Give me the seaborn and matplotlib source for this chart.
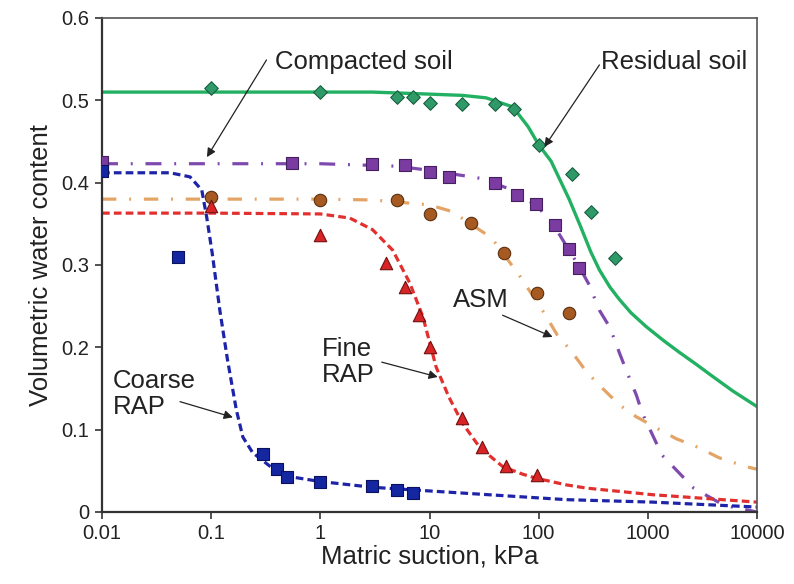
import matplotlib
matplotlib.use("Agg")
import matplotlib.pyplot as plt
import seaborn as sns

# ---------------- measured points ----------------
res_x = [0.1, 1, 5, 7, 10, 20, 40, 60, 100, 200, 300, 500]
res_y = [0.515, 0.51, 0.504, 0.504, 0.497, 0.495, 0.495, 0.49, 0.446, 0.41, 0.364, 0.309]

comp_x = [0.01, 0.55, 3, 6, 10, 15, 40, 63, 94, 142, 191, 234]
comp_y = [0.425, 0.424, 0.423, 0.421, 0.413, 0.407, 0.40, 0.385, 0.374, 0.348, 0.319, 0.296]

asm_x = [0.1, 1, 5, 10, 24, 48, 96, 191]
asm_y = [0.383, 0.379, 0.379, 0.362, 0.351, 0.314, 0.266, 0.242]

fine_x = [0.1, 1, 4, 6, 8, 10, 20, 30, 50, 96]
fine_y = [0.372, 0.337, 0.303, 0.273, 0.239, 0.201, 0.114, 0.079, 0.056, 0.045]

coarse_x = [0.01, 0.05, 0.3, 0.4, 0.5, 1, 3, 5, 7]
coarse_y = [0.414, 0.31, 0.071, 0.052, 0.043, 0.037, 0.032, 0.027, 0.023]

# ---------------- fitted curves ----------------
res_cx = [0.01, 0.1, 1, 3, 8, 20, 33, 58, 80, 100, 130, 190, 245, 300, 360, 450, 550, 700, 968, 1400, 1940, 2800, 3890, 6000, 10000]
res_cy = [0.51, 0.51, 0.51, 0.51, 0.508, 0.506, 0.503, 0.492, 0.468, 0.446, 0.426, 0.38, 0.345, 0.316, 0.294, 0.273, 0.258, 0.242, 0.225, 0.208, 0.194, 0.179, 0.165, 0.147, 0.128]

comp_cx = [0.01, 0.1, 1, 5, 10, 30, 60, 100, 150, 230, 290, 360, 450, 550, 630, 785, 890, 1350, 2630, 5000, 10000]
comp_cy = [0.423, 0.423, 0.423, 0.42, 0.415, 0.405, 0.39, 0.37, 0.34, 0.30, 0.276, 0.245, 0.224, 0.193, 0.173, 0.142, 0.12, 0.069, 0.029, 0.008, 0.0]

asm_cx = [0.01, 0.1, 1, 3, 10, 16, 37, 66, 112, 148, 200, 275, 372, 550, 776, 1200, 1820, 2950, 4470, 7940, 10000]
asm_cy = [0.38, 0.38, 0.38, 0.379, 0.373, 0.365, 0.333, 0.288, 0.242, 0.215, 0.195, 0.17, 0.152, 0.13, 0.116, 0.102, 0.089, 0.078, 0.066, 0.055, 0.052]

fine_cx = [0.01, 0.1, 1, 1.86, 3.0, 4.6, 6.6, 8.7, 11.5, 15, 20, 29, 47, 71, 95, 178, 275, 1100, 10000]
fine_cy = [0.363, 0.363, 0.362, 0.357, 0.343, 0.318, 0.278, 0.237, 0.176, 0.14, 0.108, 0.078, 0.055, 0.046, 0.041, 0.033, 0.029, 0.021, 0.012]

coarse_cx = [0.01, 0.042, 0.064, 0.082, 0.091, 0.102, 0.12, 0.141, 0.17, 0.195, 0.24, 0.35, 0.52, 1, 3, 20, 178, 1100, 10000]
coarse_cy = [0.412, 0.412, 0.407, 0.391, 0.358, 0.315, 0.245, 0.185, 0.124, 0.091, 0.072, 0.055, 0.043, 0.037, 0.030, 0.023, 0.015, 0.012, 0.006]

x_ticks = [0.01, 0.1, 1, 10, 100, 1000, 10000]
x_labels = ["0.01", "0.1", "1", "10", "100", "1000", "10000"]
y_ticks = [0, 0.1, 0.2, 0.3, 0.4, 0.5, 0.6]
y_labels = ["0", "0.1", "0.2", "0.3", "0.4", "0.5", "0.6"]

sns.set_theme(style="ticks")
plt.rcParams['font.family'] = ['Liberation Sans', 'DejaVu Sans']

fig = plt.figure(figsize=(7.94, 5.84), dpi=100)
ax = fig.add_axes([0.1285, 0.1233, 0.8249, 0.8459])

LW = 2.3
sns.lineplot(x=res_cx, y=res_cy, ax=ax, color="#22B062", lw=2.4, sort=False, estimator=None, zorder=2)
sns.lineplot(x=comp_cx, y=comp_cy, ax=ax, color="#7F4AAE", lw=LW, sort=False, estimator=None,
             linestyle=(0, (5.0, 4.0, 0.6, 4.0)), zorder=2)
sns.lineplot(x=asm_cx, y=asm_cy, ax=ax, color="#E3A466", lw=LW, sort=False, estimator=None,
             linestyle=(0, (4.5, 4.0, 0.6, 4.0)), zorder=2)
sns.lineplot(x=fine_cx, y=fine_cy, ax=ax, color="#E2302E", lw=LW, sort=False, estimator=None,
             linestyle=(0, (2.4, 1.3)), zorder=2)
sns.lineplot(x=coarse_cx, y=coarse_cy, ax=ax, color="#1E24A8", lw=LW, sort=False, estimator=None,
             linestyle=(0, (2.4, 1.3)), zorder=2)

sns.scatterplot(x=res_x, y=res_y, ax=ax, marker="D", s=48, color="#2E9A68", edgecolor="#1C5E40",
                linewidth=0.8, zorder=3)
sns.scatterplot(x=comp_x, y=comp_y, ax=ax, marker="s", s=78, color="#7A3CA0", edgecolor="#45205E",
                linewidth=0.8, zorder=3)
sns.scatterplot(x=asm_x, y=asm_y, ax=ax, marker="o", s=80, color="#A65A22", edgecolor="#5A3010",
                linewidth=0.8, zorder=3)
sns.scatterplot(x=fine_x, y=fine_y, ax=ax, marker="^", s=80, color="#D82426", edgecolor="#701010",
                linewidth=0.8, zorder=3)
sns.scatterplot(x=coarse_x, y=coarse_y, ax=ax, marker="s", s=78, color="#1426A0", edgecolor="#0A1260",
                linewidth=0.8, zorder=3)

ax.set_xscale("log")
ax.set_xlim(0.01, 10000)
ax.set_ylim(0, 0.6)
ax.set_xticks(x_ticks)
ax.set_xticklabels(x_labels)
ax.set_yticks(y_ticks)
ax.set_yticklabels(y_labels)
ax.minorticks_off()
ax.tick_params(axis="both", which="major", labelsize=14.5, length=5, width=1.2,
               direction="out", color="#333333", labelcolor="#222222", pad=4)
ax.set_xlabel("Matric suction, kPa", fontsize=18.5, color="#222222", labelpad=1)
ax.set_ylabel("Volumetric water content", fontsize=18.5, color="#222222", labelpad=6)

for side in ["left", "bottom"]:
    ax.spines[side].set_color("#333333")
    ax.spines[side].set_linewidth(1.6)
for side in ["top", "right"]:
    ax.spines[side].set_color("#555555")
    ax.spines[side].set_linewidth(1.2)
ax.grid(False)

arrow_kw = dict(arrowstyle="-|>", color="#222222", lw=0.9, mutation_scale=13, shrinkA=0, shrinkB=0)
txt_kw = dict(fontsize=18.5, color="#222222", ha="left", va="center", linespacing=1.1)

ax.text(0.383, 0.547, "Compacted soil", **txt_kw)
ax.annotate("", xy=(0.0914, 0.431), xytext=(0.321, 0.549), arrowprops=arrow_kw)

ax.text(376, 0.546, "Residual soil", **txt_kw)
ax.annotate("", xy=(113, 0.4435), xytext=(360, 0.543), arrowprops=arrow_kw)

ax.text(16.3, 0.258, "ASM", **txt_kw)
ax.annotate("", xy=(134, 0.2126), xytext=(46.7, 0.239), arrowprops=arrow_kw)

ax.text(1.03, 0.182, "Fine\nRAP", **txt_kw)
ax.annotate("", xy=(11.9, 0.164), xytext=(3.65, 0.182), arrowprops=arrow_kw)

ax.text(0.0126, 0.143, "Coarse\nRAP", **txt_kw)
ax.annotate("", xy=(0.158, 0.115), xytext=(0.0518, 0.134), arrowprops=arrow_kw)

fig.savefig("out.png", dpi=100)
